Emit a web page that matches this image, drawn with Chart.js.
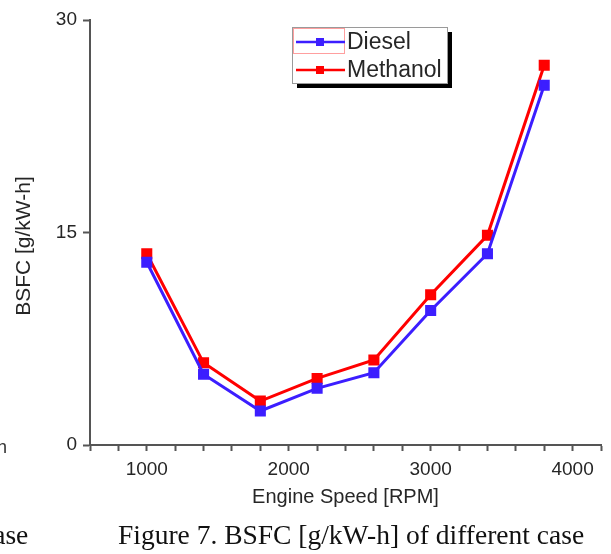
<!DOCTYPE html>
<html>
<head>
<meta charset="utf-8">
<script src="https://cdn.jsdelivr.net/npm/chart.js@4.4.0/dist/chart.umd.min.js"></script>
<style>
  body { margin: 0; background: #fff; }
  #wrap { position: relative; width: 611px; height: 554px; overflow: hidden; }
  #chart { position: absolute; left: 0; top: 0; }
  .cap { position: absolute; font-family: "Liberation Serif", "Times New Roman", serif; color: #111; white-space: nowrap; }
</style>
</head>
<body>
<div id="wrap">
  <canvas id="chart" width="611" height="554"></canvas>
  <div class="cap" style="left:118px; top:519px; font-size:27.5px;">Figure 7. BSFC [g/kW-h] of different case</div>
  <div class="cap" style="left:-19px; top:519px; font-size:27.5px;">case</div>
  <div class="cap" style="left:-3px; top:437px; font-size:18px; font-family:'Liberation Sans', Arial, sans-serif; color:#333;">h</div>
</div>
<script>
// data
const rpm = [1000, 1400, 1800, 2200, 2600, 3000, 3400, 3800];
const diesel = [12.9, 5.0, 2.4, 4.0, 5.1, 9.5, 13.5, 25.4];
const methanol = [13.5, 5.8, 3.1, 4.7, 6.0, 10.6, 14.8, 26.8];
const xTicksShown = [1000, 2000, 3000, 4000];
const yTicks = [0, 15, 30];

const blue = '#3c1eff';
const red = '#ff0000';
const axisColor = '#555';
const textColor = '#262626';
const sans = '"Liberation Sans", Arial, sans-serif';

function pairs(ys) {
  return rpm.map((x, i) => ({ x: x, y: ys[i] }));
}

// boxed legend with a drop shadow, like the original plot
const boxLegend = {
  id: 'boxLegend',
  afterDraw(chart) {
    const ctx = chart.ctx;
    const x = 292, y = 27, w = 155, h = 56;
    ctx.save();
    ctx.fillStyle = '#000';
    ctx.fillRect(x + 5, y + 5, w, h);
    ctx.fillStyle = '#fff';
    ctx.fillRect(x, y, w, h);
    ctx.strokeStyle = '#9a9a9a';
    ctx.lineWidth = 1;
    ctx.strokeRect(x + 0.5, y + 0.5, w, h);
    ctx.strokeStyle = 'rgba(255,80,80,0.55)';
    ctx.strokeRect(x + 1.5, y + 1.5, 51, 25);
    chart.data.datasets.forEach((ds, i) => {
      const ly = y + 15 + i * 28;
      ctx.strokeStyle = ds.borderColor;
      ctx.lineWidth = 2.5;
      ctx.beginPath();
      ctx.moveTo(x + 4, ly);
      ctx.lineTo(x + 53, ly);
      ctx.stroke();
      ctx.fillStyle = ds.borderColor;
      ctx.fillRect(x + 24, ly - 4, 8, 8);
      ctx.fillStyle = textColor;
      ctx.font = '23px ' + sans;
      ctx.textBaseline = 'middle';
      ctx.fillText(ds.label, x + 55, ly + 1);
    });
    ctx.restore();
  }
};

// y title sits a bit below the middle of the axis in the original
const yTitle = {
  id: 'yTitle',
  afterDraw(chart) {
    const ctx = chart.ctx;
    ctx.save();
    ctx.translate(24, 246);
    ctx.rotate(-Math.PI / 2);
    ctx.fillStyle = textColor;
    ctx.font = '21px ' + sans;
    ctx.textAlign = 'center';
    ctx.textBaseline = 'middle';
    ctx.fillText('BSFC [g/kW-h]', 0, 0);
    ctx.restore();
  }
};

new Chart(document.getElementById('chart'), {
  type: 'line',
  data: {
    datasets: [
      { label: 'Diesel', data: pairs(diesel), borderColor: blue, backgroundColor: blue,
        borderWidth: 3, pointStyle: 'rect', pointRadius: 5.7, tension: 0 },
      { label: 'Methanol', data: pairs(methanol), borderColor: red, backgroundColor: red,
        borderWidth: 3, pointStyle: 'rect', pointRadius: 5.7, tension: 0 }
    ]
  },
  options: {
    responsive: false,
    animation: false,
    layout: { padding: { left: 0, right: 10, top: 20, bottom: 0 } },
    plugins: { legend: { display: false }, tooltip: { enabled: false } },
    scales: {
      x: {
        type: 'linear',
        min: 600, max: 4200,
        afterFit(scale) { scale.height = 109; },
        border: { color: axisColor, width: 2 },
        grid: { drawOnChartArea: false, drawTicks: true, tickLength: 6, color: axisColor, tickWidth: 2 },
        ticks: {
          stepSize: 200, autoSkip: false, maxRotation: 0, padding: 7,
          color: textColor,
          font: { family: sans, size: 19 },
          callback: v => xTicksShown.includes(v) ? String(v) : ''
        },
        title: {
          display: true, text: 'Engine Speed [RPM]', color: textColor,
          font: { family: sans, size: 20, lineHeight: 1.2 },
          padding: { top: 0, bottom: 45 }
        }
      },
      y: {
        min: 0, max: 30,
        afterFit(scale) { scale.width = 90; },
        afterBuildTicks(scale) { scale.ticks = yTicks.map(v => ({ value: v })); },
        border: { color: axisColor, width: 2 },
        grid: { drawOnChartArea: false, drawTicks: true, tickLength: 7, color: axisColor, tickWidth: 2 },
        ticks: {
          padding: 6, color: textColor,
          font: { family: sans, size: 19 }
        }
      }
    }
  },
  plugins: [boxLegend, yTitle]
});
</script>
</body>
</html>
